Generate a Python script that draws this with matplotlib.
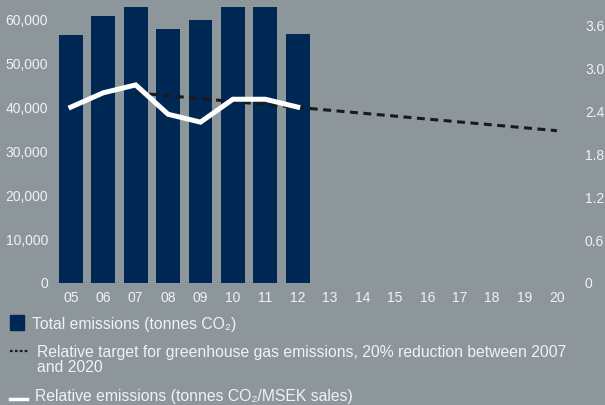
import matplotlib
matplotlib.use('Agg')
import matplotlib.pyplot as plt
from matplotlib.patches import Rectangle
from matplotlib.lines import Line2D

plt.rcParams['font.family'] = ['Liberation Sans', 'DejaVu Sans']

# ---- data ----
years = list(range(5, 21))
year_labels = ['05', '06', '07', '08', '09', '10', '11', '12', '13', '14', '15', '16', '17', '18', '19', '20']
bar_years = [5, 6, 7, 8, 9, 10, 11, 12]
total_emissions = [56400, 60700, 62800, 57800, 59800, 62800, 62800, 56600]
relative_emissions = [2.46, 2.66, 2.77, 2.36, 2.25, 2.57, 2.57, 2.46]
target_years = [7, 20]
target_values = [2.66, 2.13]
left_ticks = [0, 10000, 20000, 30000, 40000, 50000, 60000]
right_ticks = [0, 0.6, 1.2, 1.8, 2.4, 3.0, 3.6]
right_labels = ['0', '0.6', '1.2', '1.8', '2.4', '3.0', '3.6']

bg = '#8c969b'
navy = '#002855'
txt = '#f2f2f2'

W, H = 605, 405
fig = plt.figure(figsize=(W / 100, H / 100), dpi=100, facecolor=bg)
ax = fig.add_axes([55 / W, (H - 283) / H, (578 - 55) / W, 281 / H])
ax.set_facecolor('none')
for s in ax.spines.values():
    s.set_visible(False)

ax.bar(bar_years, total_emissions, width=0.74, color=navy, zorder=2)
ax.set_xlim(4.51, 20.65)
ax.set_ylim(0, 63920)
ax.set_xticks(years, year_labels)
ax.set_yticks(left_ticks, [f'{v:,}' for v in left_ticks])
ax.tick_params(axis='x', length=0, pad=6.0, labelsize=10, labelcolor=txt)
ax.tick_params(axis='y', length=0, pad=5, labelsize=10, labelcolor=txt)

ax2 = ax.twinx()
for s in ax2.spines.values():
    s.set_visible(False)
ax2.set_ylim(0, 3.93)
ax2.set_yticks(right_ticks, right_labels)
ax2.tick_params(axis='y', length=0, pad=5, labelsize=10, labelcolor=txt)
ax2.plot(target_years, target_values, color='#1a1a1a', lw=2.2,
         ls=(0, (2.6, 1.8)), zorder=3)
ax2.plot(bar_years, relative_emissions, color='white', lw=3.6,
         solid_joinstyle='miter', zorder=4)

# ---- legend (manual) ----
fs = 11.3
fig.patches.append(Rectangle((10 / W, 1 - 330 / H), 14 / W, 15 / H,
                             transform=fig.transFigure, color=navy))
fig.text(32 / W, 1 - 324 / H, 'Total emissions (tonnes CO₂)', va='center',
         fontsize=fs, color=txt)
fig.lines.append(Line2D([10 / W, 28 / W], [1 - 351 / H] * 2, transform=fig.transFigure,
                        color='#1a1a1a', lw=1.6, ls=(0, (1.2, 1.0))))
fig.text(37 / W, 1 - 352 / H,
         'Relative target for greenhouse gas emissions, 20% reduction between 2007',
         va='center', fontsize=fs, color=txt)
fig.text(37 / W, 1 - 367 / H, 'and 2020', va='center', fontsize=fs, color=txt)
fig.lines.append(Line2D([10 / W, 27 / W], [1 - 399 / H] * 2, transform=fig.transFigure,
                        color='white', lw=2.5))
fig.text(35 / W, 1 - 396 / H, 'Relative emissions (tonnes CO₂/MSEK sales)', va='center',
         fontsize=fs, color=txt)

fig.savefig('out.png', dpi=100, facecolor=bg)
